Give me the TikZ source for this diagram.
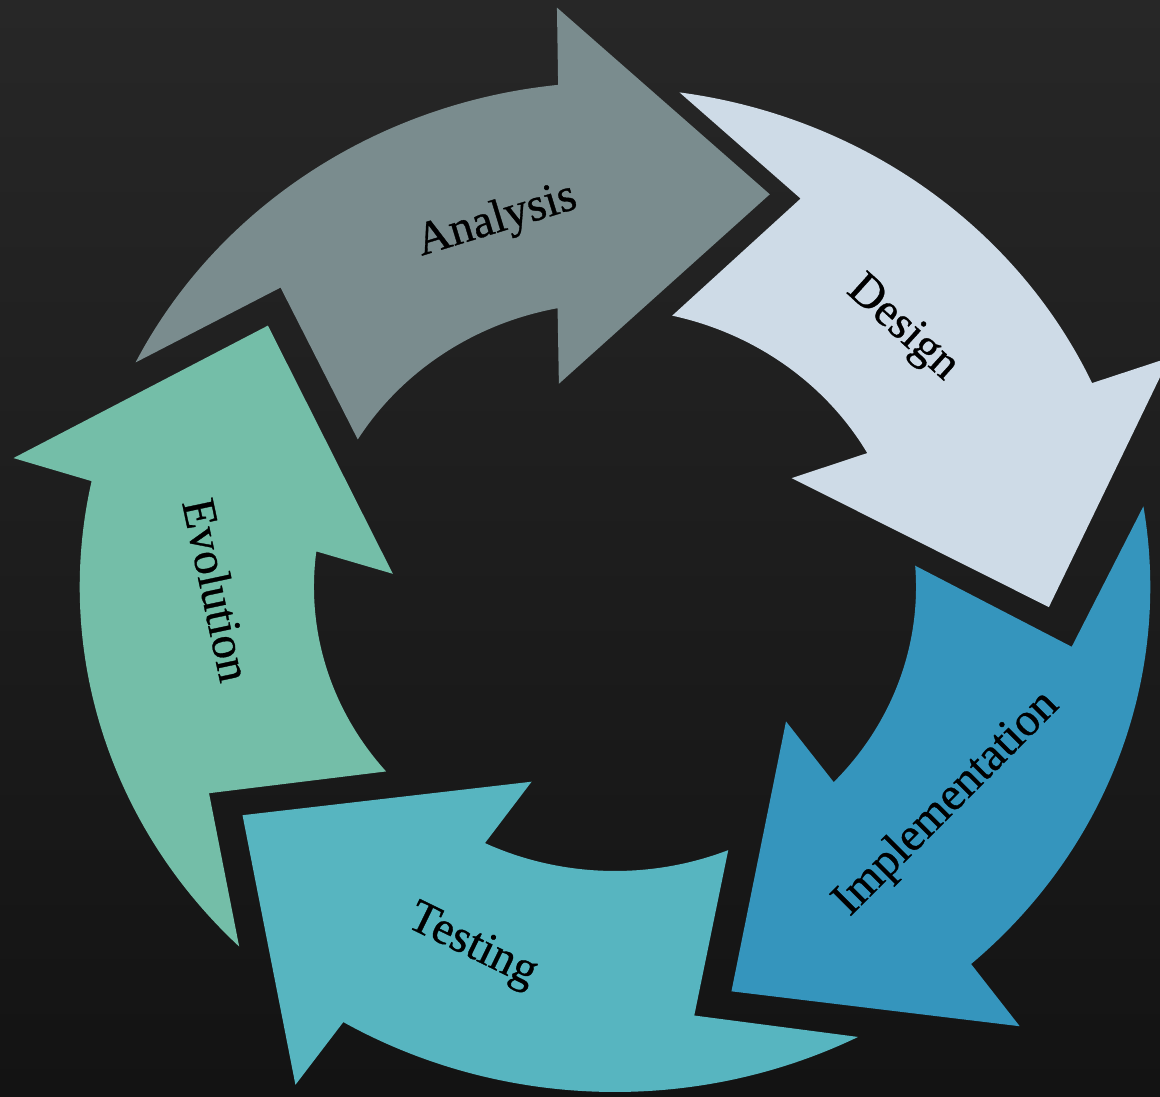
\documentclass[tikz,border=0pt]{standalone}
\usepackage{fontspec}
\setmainfont{Liberation Serif}
\newfontfamily\labelfont{Liberation Serif}[FakeBold=0.7]
\definecolor{bgtop}{HTML}{272727}
\definecolor{bgbot}{HTML}{131313}
\definecolor{analysisC}{HTML}{7A8C8E}
\definecolor{designC}{HTML}{CEDBE7}
\definecolor{implC}{HTML}{3595BD}
\definecolor{testC}{HTML}{57B5C0}
\definecolor{evoC}{HTML}{74BEA8}
% one curved block arrow of the cycle: centre x, centre y, tip angle, colour
\newcommand\cyclearrow[4]{%
  \begin{scope}[shift={(#1,#2)}, xscale=1.06]
    \fill[#4] ({#3+84}:505) arc[start angle={#3+84}, end angle={#3+26.5}, radius=505]
      -- ({#3+25.8}:582) -- (#3:419) -- ({#3+35}:210) -- ({#3+31.4}:284)
      arc[start angle={#3+31.4}, end angle={#3+79.1}, radius=284]
      -- ({#3+66.9}:435) -- cycle;
  \end{scope}}
\begin{document}
\begin{tikzpicture}[x=1pt,y=1pt,
  steplabel/.style={font=\labelfont\fontsize{47}{52}\selectfont, text=black, inner sep=0pt}]
\useasboundingbox (0,0) rectangle (1160,1096);
\clip (0,0) rectangle (1160,1096);
\shade[top color=bgtop, bottom color=bgbot] (0,0) rectangle (1160,1096);

% the five arrows, clockwise
\cyclearrow{615}{509}{69.6}{analysisC}
\cyclearrow{605}{503.5}{-2.0}{designC}
\cyclearrow{615}{509}{-74.8}{implC}
\cyclearrow{615}{509}{-147.0}{testC}
\cyclearrow{615}{509}{141.4}{evoC}

% labels
\node[steplabel, rotate=17]  (analysis) at (497,875) {Analysis};
\node[steplabel, rotate=-42] (design)   at (902,767) {Design};
\node[steplabel, rotate=45]  (impl)     at (947,292) {Implementation};
\node[steplabel, rotate=-26] (testing)  at (472,149) {Testing};
\node[steplabel, rotate=-78] (evolution) at (217,506) {Evolution};
\end{tikzpicture}
\end{document}
